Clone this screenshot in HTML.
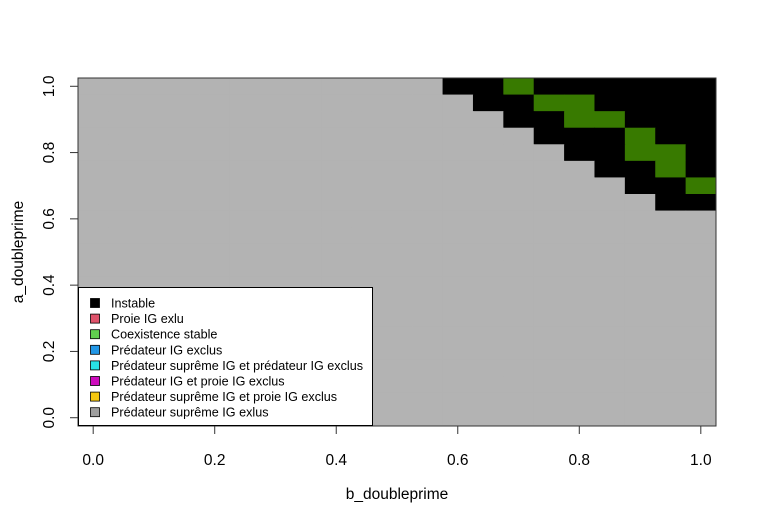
<!DOCTYPE html>
<html><head><meta charset="utf-8"><style>
body{margin:0;background:#fff;}
svg{display:block;font-family:"Liberation Sans",sans-serif;}
</style></head><body>
<svg id="chart" width="757" height="524">
<g id="cells"></g>
<rect x="78" y="78" width="638" height="348" fill="none" stroke="#333" stroke-width="1"/>
<g id="xaxis"></g>
<g id="yaxis"></g>
<text x="397" y="499" font-size="15.5" text-anchor="middle">b_doubleprime</text>
<text transform="translate(23,252) rotate(-90)" font-size="15.5" text-anchor="middle">a_doubleprime</text>
<g id="legend"></g>
</svg>
<script>
const bValues=[0,0.05,0.1,0.15,0.2,0.25,0.3,0.35,0.4,0.45,0.5,0.55,0.6,0.65,0.7,0.75,0.8,0.85,0.9,0.95,1.0];
const aValues=[0,0.05,0.1,0.15,0.2,0.25,0.3,0.35,0.4,0.45,0.5,0.55,0.6,0.65,0.7,0.75,0.8,0.85,0.9,0.95,1.0];
// rows from a=1.0 down to a=0.0; g=grey, k=instable, G=coexistence
const gridRows=[
"ggggggggggggkkGkkkkkk",
"gggggggggggggkkGGkkkk",
"ggggggggggggggkkGGkkk",
"gggggggggggggggkkkGkk",
"ggggggggggggggggkkGGk",
"gggggggggggggggggkkGk",
"ggggggggggggggggggkkG",
"gggggggggggggggggggkk",
"ggggggggggggggggggggg","ggggggggggggggggggggg","ggggggggggggggggggggg","ggggggggggggggggggggg","ggggggggggggggggggggg","ggggggggggggggggggggg","ggggggggggggggggggggg","ggggggggggggggggggggg","ggggggggggggggggggggg","ggggggggggggggggggggg","ggggggggggggggggggggg","ggggggggggggggggggggg","ggggggggggggggggggggg"];
const xTicks=[0,0.2,0.4,0.6,0.8,1.0];
const yTicks=[0,0.2,0.4,0.6,0.8,1.0];
const legendLabels=["Instable","Proie IG exlu","Coexistence stable","Prédateur IG exclus","Prédateur suprême IG et prédateur IG exclus","Prédateur IG et proie IG exclus","Prédateur suprême IG et proie IG exclus","Prédateur suprême IG exlus"];
const legendColors=["#000000","#DF536B","#61D04F","#2297E6","#28E2E5","#CD0BBC","#F5C710","#9E9E9E"];
const cellColors={g:"#b3b3b3",k:"#000000",G:"#387a00"};
const NS="http://www.w3.org/2000/svg";
const L=78,R=716,T=78,B=426;
const cw=(R-L)/bValues.length, ch=(B-T)/aValues.length;
function xs(v){return L+cw/2+v/0.05*cw;}
function ys(v){return B-ch/2-v/0.05*ch;}
function mk(tag,attrs,parent){const e=document.createElementNS(NS,tag);for(const k in attrs)e.setAttribute(k,attrs[k]);parent.appendChild(e);return e;}
const cells=document.getElementById('cells');
gridRows.forEach((row,ri)=>{
  const a=aValues[aValues.length-1-ri];
  for(let ci=0;ci<row.length;ci++){
    const b=bValues[ci];
    const r=mk('rect',{x:xs(b)-cw/2,y:ys(a)-ch/2,width:cw+0.5,height:ch+0.5,fill:cellColors[row[ci]]},cells);
    
    
  }
});
const xa=document.getElementById('xaxis');
xTicks.forEach(t=>{
  const l=mk('line',{x1:xs(t),x2:xs(t),y1:B,y2:B+8,stroke:'#333'},xa);
  
  
  const tx=mk('text',{x:xs(t),y:465,'font-size':15.5,'text-anchor':'middle'},xa);
  tx.textContent=t.toFixed(1);
  
  
});
const ya=document.getElementById('yaxis');
yTicks.forEach(t=>{
  const l=mk('line',{x1:L-8,x2:L,y1:ys(t),y2:ys(t),stroke:'#333'},ya);
  
  
  const tx=mk('text',{transform:`translate(54,${ys(t)}) rotate(-90)`,'font-size':15.5,'text-anchor':'middle'},ya);
  tx.textContent=t.toFixed(1);
  
  
});
const lg=document.getElementById('legend');
const box=mk('rect',{x:78.5,y:287.5,width:294,height:138,fill:'#fff',stroke:'#000'},lg);


legendLabels.forEach((lab,i)=>{
  const y=303+i*15.6;
  const sw=mk('rect',{x:90.5,y:y-4.5,width:9,height:9,fill:legendColors[i],stroke:'#000','stroke-width':0.8},lg);
  
  
  const tx=mk('text',{x:111,y:y+4.5,'font-size':12.6},lg);
  tx.textContent=lab;
  
  
});
</script>
</body></html>
